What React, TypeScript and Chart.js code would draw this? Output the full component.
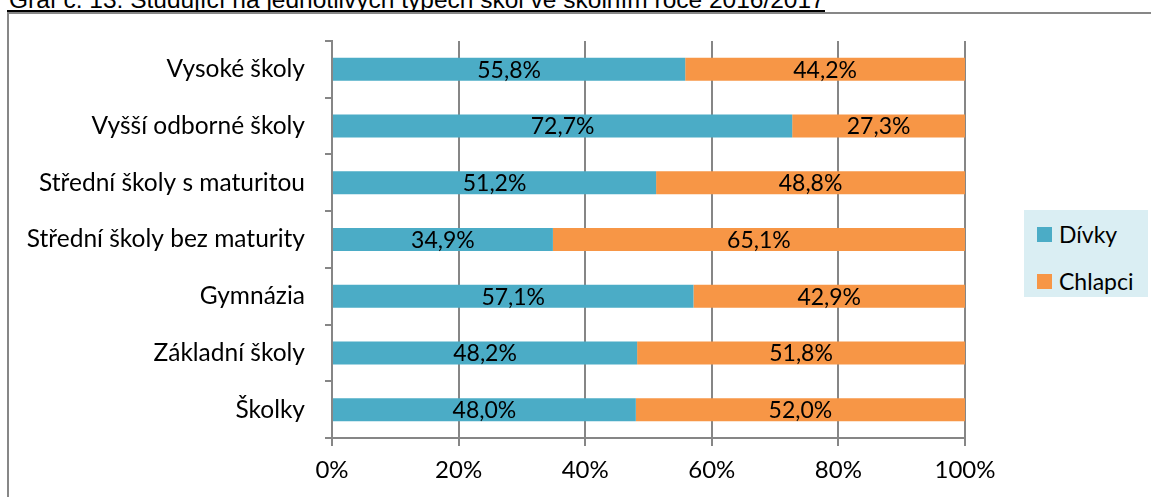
import React, { useEffect, useRef } from "react";
import { Chart, registerables } from "chart.js";

Chart.register(...registerables);

const TITLE = "Graf č. 13: Studující na jednotlivých typech škol ve školním roce 2016/2017";
const categories = [
  "Vysoké školy",
  "Vyšší odborné školy",
  "Střední školy s maturitou",
  "Střední školy bez maturity",
  "Gymnázia",
  "Základní školy",
  "Školky",
];
const seriesNames = ["Dívky", "Chlapci"];
const divky = [55.8, 72.7, 51.2, 34.9, 57.1, 48.2, 48.0];
const chlapci = [44.2, 27.3, 48.8, 65.1, 42.9, 51.8, 52.0];
const xTicks = [0, 20, 40, 60, 80, 100];

const BLUE = "#4BACC6";
const ORANGE = "#F79646";
const GRID = "#868686";
const FONT = "Lato";

const fmt = (v: number) => v.toFixed(1).replace(".", ",") + "%";

const labelPlugin = {
  id: "barLabels",
  afterDatasetsDraw(chart: any) {
    const ctx = chart.ctx;
    ctx.save();
    ctx.font = `23px ${FONT}`;
    ctx.fillStyle = "#000";
    ctx.textAlign = "center";
    ctx.textBaseline = "middle";
    chart.data.datasets.forEach((ds: any, di: number) => {
      const meta = chart.getDatasetMeta(di);
      meta.data.forEach((el: any, i: number) => {
        const p = el.getProps(["x", "y", "base"], true);
        ctx.fillText(fmt(ds.data[i]), (p.x + p.base) / 2, p.y + 1);
      });
    });
    ctx.restore();
  },
};

export default function App() {
  const ref = useRef<HTMLCanvasElement>(null);
  useEffect(() => {
    document.body.style.margin = "0";
    const chart = new Chart(ref.current!, {
      type: "bar",
      data: {
        labels: categories,
        datasets: [
          { label: seriesNames[0], data: divky, backgroundColor: BLUE },
          { label: seriesNames[1], data: chlapci, backgroundColor: ORANGE },
        ],
      },
      options: {
        indexAxis: "y",
        animation: false,
        responsive: false,
        devicePixelRatio: 1,
        layout: { padding: { top: 41, right: 186, left: 0, bottom: 0 } },
        datasets: { bar: { barPercentage: 0.405, categoryPercentage: 1 } },
        plugins: { legend: { display: false }, tooltip: { enabled: false } },
        scales: {
          x: {
            stacked: true,
            min: 0,
            max: 100,
            afterFit: (s: any) => { s.height = 59; },
            afterBuildTicks: (s: any) => { s.ticks = xTicks.map((v) => ({ value: v })); },
            ticks: {
              callback: (v: any) => v + "%",
              color: "#000",
              font: { family: FONT, size: 24 },
              padding: 10,
              maxRotation: 0,
            },
            grid: { color: GRID, lineWidth: 2, tickLength: 8, drawTicks: true },
            border: { color: GRID, width: 2 },
          },
          y: {
            stacked: true,
            afterFit: (s: any) => { s.width = 332; },
            ticks: {
              color: "#000",
              font: { family: FONT, size: 24.5 },
              padding: 20,
            },
            grid: { offset: true, drawOnChartArea: false, color: GRID, lineWidth: 2, tickLength: 7 },
            border: { color: GRID, width: 2 },
          },
        },
      },
      plugins: [labelPlugin],
    });
    return () => chart.destroy();
  }, []);

  return (
    <div style={{ position: "absolute", left: 0, top: 0, width: 1151, height: 497, overflow: "hidden", background: "#fff" }}>
      <div
        style={{
          position: "absolute",
          left: 7,
          top: -10,
          fontFamily: "'Liberation Sans', Arial, sans-serif",
          fontSize: 24.5,
          lineHeight: "20px",
          height: 20,
          whiteSpace: "nowrap",
          borderBottom: "2px solid #000",
          paddingLeft: 2,
        }}
      >
        {TITLE}
      </div>
      <div
        style={{
          position: "absolute",
          left: 7,
          top: 12,
          width: 1200,
          height: 600,
          borderLeft: "2px solid #878787",
          borderTop: "2px solid #878787",
        }}
      />
      <canvas ref={ref} width={1151} height={497} style={{ position: "absolute", left: 0, top: 0 }} />
      <div
        style={{
          position: "absolute",
          left: 1024,
          top: 210,
          width: 124,
          height: 87,
          background: "#DAEEF3",
          fontFamily: FONT,
          fontSize: 23,
          color: "#000",
        }}
      >
        {seriesNames.map((n, i) => (
          <div key={n} style={{ position: "absolute", left: 13, top: 12 + i * 47, display: "flex", alignItems: "center", lineHeight: "24px" }}>
            <span style={{ display: "inline-block", width: 15, height: 15, background: i === 0 ? BLUE : ORANGE, marginRight: 7 }} />
            <span>{n}</span>
          </div>
        ))}
      </div>
    </div>
  );
}
